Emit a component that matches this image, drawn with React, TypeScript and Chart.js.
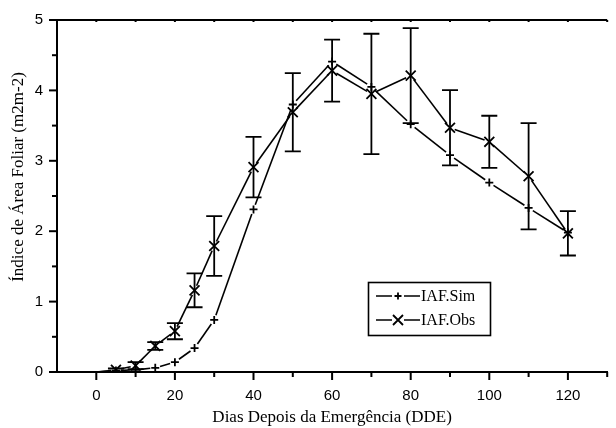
import { useEffect, useRef } from "react";
import { Chart, registerables } from "chart.js";

Chart.register(...registerables);

// Dias depois da emergência (DDE)
const days = [0, 5, 10, 15, 20, 25, 30, 40, 50, 60, 70, 80, 90, 100, 110, 120];
// Índice de área foliar simulado
const iafSim = [0, 0.02, 0.03, 0.06, 0.14, 0.34, 0.74, 2.31, 3.8, 4.41, 4.05, 3.52, 3.08, 2.69, 2.33, 1.98];
// Índice de área foliar observado e desvio padrão
const iafObs = [0, 0.03, 0.09, 0.37, 0.58, 1.16, 1.79, 2.91, 3.69, 4.28, 3.95, 4.21, 3.47, 3.27, 2.78, 1.97];
const iafObsSd = [0, 0.02, 0.05, 0.055, 0.115, 0.24, 0.425, 0.43, 0.555, 0.44, 0.855, 0.675, 0.535, 0.37, 0.755, 0.315];

const xTickLabels = [0, 20, 40, 60, 80, 100, 120];
const yTickLabels = [0, 1, 2, 3, 4, 5];

const xTitle = "Dias Depois da Emergência (DDE)";
const yTitle = "Índice de Área Foliar (m2m-2)";

const INK = "#000";
const SANS = "'Liberation Sans', Arial, sans-serif";
const SERIF = "'Liberation Serif', 'Times New Roman', serif";

// Line segments with small gaps around each symbol
const gappedLines = {
  id: "gappedLines",
  afterDatasetsDraw(chart: any) {
    const ctx = chart.ctx;
    ctx.save();
    ctx.strokeStyle = INK;
    ctx.lineWidth = 1.6;
    chart.data.datasets.forEach((_ds: any, i: number) => {
      const pts = chart.getDatasetMeta(i).data;
      for (let k = 0; k < pts.length - 1; k++) {
        const a = pts[k];
        const b = pts[k + 1];
        const dx = b.x - a.x;
        const dy = b.y - a.y;
        const len = Math.hypot(dx, dy);
        if (len < 1) continue;
        const ga = k === 0 ? 0 : 5;
        const gb = 5;
        if (len <= ga + gb) continue;
        const ux = dx / len;
        const uy = dy / len;
        ctx.beginPath();
        ctx.moveTo(a.x + ux * ga, a.y + uy * ga);
        ctx.lineTo(b.x - ux * gb, b.y - uy * gb);
        ctx.stroke();
      }
    });
    ctx.restore();
  },
};

// Error bars for the observed series
const errorBars = {
  id: "errorBars",
  afterDatasetsDraw(chart: any) {
    const ctx = chart.ctx;
    const xs = chart.scales.x;
    const ys = chart.scales.y;
    ctx.save();
    ctx.strokeStyle = INK;
    ctx.lineWidth = 1.8;
    days.forEach((d, i) => {
      const sd = iafObsSd[i];
      if (!sd) return;
      const x = xs.getPixelForValue(d);
      const top = ys.getPixelForValue(iafObs[i] + sd);
      const bot = ys.getPixelForValue(iafObs[i] - sd);
      ctx.beginPath();
      ctx.moveTo(x, top);
      ctx.lineTo(x, bot);
      ctx.moveTo(x - 8, top);
      ctx.lineTo(x + 8, top);
      ctx.moveTo(x - 8, bot);
      ctx.lineTo(x + 8, bot);
      ctx.stroke();
    });
    ctx.restore();
  },
};

// Axis frame, major/minor tick marks, the vertical axis title and the legend box
const frame = {
  id: "frame",
  afterDraw(chart: any) {
    const ctx = chart.ctx;
    const { left, right, top, bottom } = chart.chartArea;
    const xs = chart.scales.x;
    const ys = chart.scales.y;
    ctx.save();
    ctx.strokeStyle = INK;
    ctx.lineWidth = 2;
    ctx.beginPath();
    ctx.moveTo(left - 1, top);
    ctx.lineTo(right, top);
    ctx.stroke();

    for (let v = 0; v <= 130; v += 10) {
      const x = xs.getPixelForValue(v);
      const major = v % 20 === 0;
      ctx.beginPath();
      ctx.moveTo(x, bottom);
      ctx.lineTo(x, bottom + (major ? 8 : 5));
      ctx.moveTo(x, top);
      ctx.lineTo(x, top + 2);
      ctx.stroke();
    }
    for (let v = 0; v <= 5; v += 0.5) {
      const y = ys.getPixelForValue(v);
      const major = Math.abs(v - Math.round(v)) < 1e-6;
      ctx.beginPath();
      ctx.moveTo(left, y);
      ctx.lineTo(left - (major ? 8 : 5), y);
      ctx.stroke();
    }

    // vertical axis title
    ctx.save();
    ctx.translate(19, 177);
    ctx.rotate(-Math.PI / 2);
    ctx.fillStyle = INK;
    ctx.font = `17px ${SERIF}`;
    ctx.textAlign = "center";
    ctx.textBaseline = "middle";
    ctx.fillText(yTitle, 0, 0);
    ctx.restore();

    // legend
    const bx = 368;
    const by = 282;
    const bw = 122;
    const bh = 53;
    ctx.lineWidth = 1.6;
    ctx.strokeRect(bx + 0.5, by + 0.5, bw, bh);
    const rows = [
      { label: chart.data.datasets[0].label, style: "cross", y: by + 14 },
      { label: chart.data.datasets[1].label, style: "crossRot", y: by + 38 },
    ];
    rows.forEach((r) => {
      const x0 = bx + 8;
      const x1 = bx + 52;
      const cx = (x0 + x1) / 2;
      ctx.lineWidth = 1.6;
      ctx.beginPath();
      ctx.moveTo(x0, r.y);
      ctx.lineTo(cx - 6, r.y);
      ctx.moveTo(cx + 6, r.y);
      ctx.lineTo(x1, r.y);
      ctx.stroke();
      ctx.lineWidth = 1.8;
      ctx.beginPath();
      if (r.style === "cross") {
        ctx.moveTo(cx - 3.5, r.y);
        ctx.lineTo(cx + 3.5, r.y);
        ctx.moveTo(cx, r.y - 3.5);
        ctx.lineTo(cx, r.y + 3.5);
      } else {
        ctx.moveTo(cx - 5, r.y - 5);
        ctx.lineTo(cx + 5, r.y + 5);
        ctx.moveTo(cx + 5, r.y - 5);
        ctx.lineTo(cx - 5, r.y + 5);
      }
      ctx.stroke();
      ctx.fillStyle = INK;
      ctx.font = `16px ${SERIF}`;
      ctx.textBaseline = "middle";
      ctx.textAlign = "left";
      ctx.fillText(r.label, x1 + 1, r.y + 1);
    });
    ctx.restore();
  },
};

export default function App() {
  const ref = useRef<HTMLCanvasElement | null>(null);

  useEffect(() => {
    document.body.style.margin = "0";
    document.body.style.overflow = "hidden";
    const canvas = ref.current;
    if (!canvas) return;
    const chart = new Chart(canvas, {
      type: "scatter",
      data: {
        datasets: [
          {
            label: "IAF.Sim",
            data: days.map((d, i) => ({ x: d, y: iafSim[i] })),
            showLine: false,
            pointStyle: "cross",
            pointRadius: (c: any) => (c.dataIndex === 0 ? 0 : 4),
            pointBorderWidth: 1.8,
            borderColor: INK,
            backgroundColor: INK,
          },
          {
            label: "IAF.Obs",
            data: days.map((d, i) => ({ x: d, y: iafObs[i] })),
            showLine: false,
            pointStyle: "crossRot",
            pointRadius: (c: any) => (c.dataIndex === 0 ? 0 : 7),
            pointBorderWidth: 1.8,
            borderColor: INK,
            backgroundColor: INK,
          },
        ],
      },
      options: {
        animation: false,
        responsive: false,
        devicePixelRatio: 1,
        layout: { padding: { top: 20, right: 0, left: 0, bottom: 0 } },
        plugins: {
          legend: { display: false },
          tooltip: { enabled: false },
        },
        scales: {
          x: {
            type: "linear",
            min: -10,
            max: 130,
            afterBuildTicks: (s: any) => {
              s.ticks = xTickLabels.map((v) => ({ value: v }));
            },
            afterFit: (s: any) => {
              s.height = 56;
            },
            grid: {
              display: true,
              drawOnChartArea: false,
              drawTicks: true,
              tickLength: 8,
              tickColor: "rgba(0,0,0,0)",
            },
            border: { display: true, color: INK, width: 2 },
            ticks: {
              color: INK,
              padding: 7,
              maxRotation: 0,
              autoSkip: false,
              font: { family: SANS, size: 15 },
            },
            title: {
              display: true,
              text: xTitle,
              color: INK,
              font: { family: SERIF, size: 17 },
              padding: { top: 0, bottom: 0 },
            },
          },
          y: {
            type: "linear",
            min: 0,
            max: 5,
            afterBuildTicks: (s: any) => {
              s.ticks = yTickLabels.map((v) => ({ value: v }));
            },
            afterFit: (s: any) => {
              s.width = 57;
            },
            grid: {
              display: true,
              drawOnChartArea: false,
              drawTicks: true,
              tickLength: 8,
              tickColor: "rgba(0,0,0,0)",
            },
            border: { display: true, color: INK, width: 2 },
            ticks: {
              color: INK,
              padding: 6,
              font: { family: SANS, size: 15 },
            },
            title: { display: false },
          },
        },
      },
      plugins: [errorBars, gappedLines, frame],
    } as any);
    return () => chart.destroy();
  }, []);

  return (
    <div style={{ width: 616, height: 428, background: "#fff" }}>
      <canvas ref={ref} width={616} height={428} />
    </div>
  );
}
